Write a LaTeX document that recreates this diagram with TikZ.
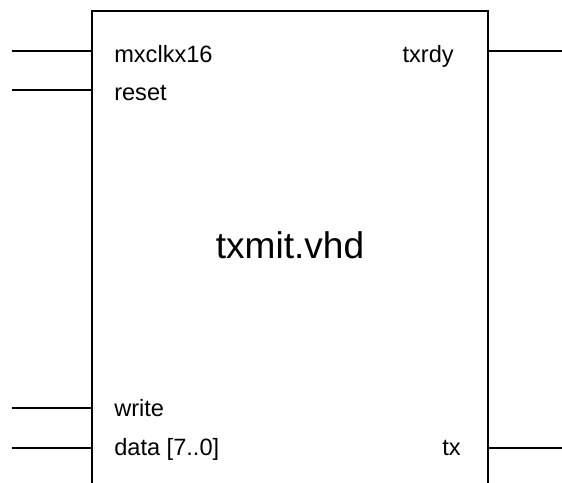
\documentclass[tikz,border=0pt]{standalone}
\usepackage{fontspec}
\setmainfont{Liberation Sans}

\tikzset{every picture/.style={line width=1.9pt}}
\tikzset{
  portlabel/.style={inner sep=0.75pt, font=\fontsize{17.7}{21}\selectfont},
  titlelabel/.style={inner sep=0.75pt, font=\fontsize{27.8}{33}\selectfont}
}

\begin{document}
\begin{tikzpicture}[x=0.75pt,y=0.75pt,yscale=-1,xscale=1]
	\useasboundingbox (0,0) rectangle (562,483); %set diagram to 562 x 483
	
	%Shape: Block (open at the bottom)
	\draw (92,483) -- (92,11) -- (488,11) -- (488,483) ;
	
	%Pins on the left
	\coordinate (mxclk in) at (12,51);   \coordinate (mxclk pin) at (92,51);
	\coordinate (reset in) at (12,90);   \coordinate (reset pin) at (92,90);
	\coordinate (write in) at (12,408);  \coordinate (write pin) at (92,408);
	\coordinate (data in) at (12,448);   \coordinate (data pin) at (92,448);
	%Pins on the right
	\coordinate (txrdy pin) at (488,51); \coordinate (txrdy out) at (562,51);
	\coordinate (tx pin) at (488,448);   \coordinate (tx out) at (562,448);
	
	\draw (mxclk in) -- (mxclk pin) ;
	\draw (reset in) -- (reset pin) ;
	\draw (write in) -- (write pin) ;
	\draw (data in) -- (data pin) ;
	\draw (txrdy pin) -- (txrdy out) ;
	\draw (tx pin) -- (tx out) ;
	
	\draw (112,62) node (mxclk) [anchor=base west][portlabel] {mxclkx16};
	\draw (112,100.5) node (reset) [anchor=base west][portlabel] {reset};
	\draw (112,416) node (write) [anchor=base west][portlabel] {write};
	\draw (112,455) node (data) [anchor=base west][portlabel] {data [7..0]};
	\draw (456,62) node (txrdy) [anchor=base east][portlabel] {txrdy};
	\draw (463,455.5) node (tx) [anchor=base east][portlabel] {tx};
	
	\draw (290,258) node (title) [anchor=base][titlelabel] {txmit.vhd};
	
\end{tikzpicture}
\end{document}
